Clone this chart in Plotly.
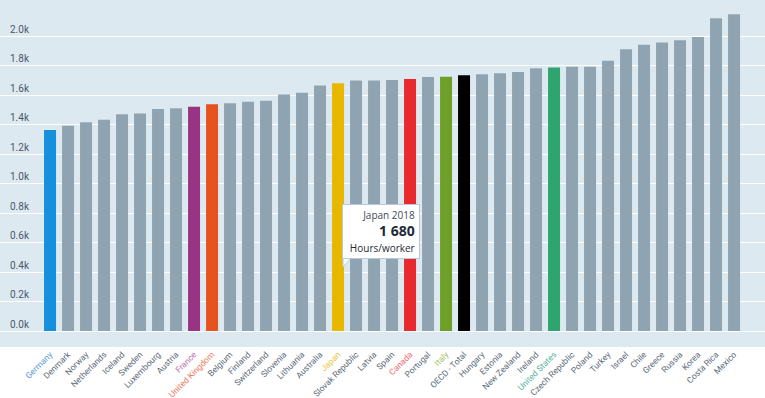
import plotly.graph_objects as go

countries = ["Germany", "Denmark", "Norway", "Netherlands", "Iceland", "Sweden", "Luxembourg",
             "Austria", "France", "United Kingdom", "Belgium", "Finland", "Switzerland", "Slovenia",
             "Lithuania", "Australia", "Japan", "Slovak Republic", "Latvia", "Spain", "Canada",
             "Portugal", "Italy", "OECD - Total", "Hungary", "Estonia", "New Zealand", "Ireland",
             "United States", "Czech Republic", "Poland", "Turkey", "Israel", "Chile", "Greece",
             "Russia", "Korea", "Costa Rica", "Mexico"]
hours = [1363, 1392, 1416, 1433, 1469, 1474, 1506, 1511, 1520, 1538, 1545, 1555, 1561, 1603,
         1616, 1665, 1680, 1698, 1699, 1701, 1708, 1722, 1723, 1734, 1741, 1748, 1756, 1782,
         1786, 1792, 1792, 1832, 1910, 1941, 1956, 1972, 1993, 2121, 2148]

highlight_bar = {"Germany": "#1490dc", "France": "#993484", "United Kingdom": "#e5531f",
                 "Japan": "#e8b800", "Canada": "#e8292e", "Italy": "#6e9f28",
                 "OECD - Total": "#000000", "United States": "#2ea46e"}
highlight_label = {"Germany": "#5a9ad6", "France": "#c072ad", "United Kingdom": "#ee7a5c",
                   "Japan": "#eec243", "Canada": "#ef6a72", "Italy": "#9cc466",
                   "United States": "#58b39a"}
base_bar = "#8fa4b0"
base_label = "#5a6a78"

y_ticks = [0, 200, 400, 600, 800, 1000, 1200, 1400, 1600, 1800, 2000]
y_ticktext = ["0.0k", "0.2k", "0.4k", "0.6k", "0.8k", "1.0k", "1.2k", "1.4k", "1.6k", "1.8k", "2.0k"]

tooltip_country = "Japan"
tooltip_year = "2018"
tooltip_unit = "Hours/worker"

bar_colors = [highlight_bar.get(c, base_bar) for c in countries]
tick_text = ['<span style="color:%s">%s</span>' % (highlight_label.get(c, base_label), c)
             for c in countries]
idx = list(range(len(countries)))

fig = go.Figure(go.Bar(x=idx, y=hours, marker=dict(color=bar_colors, line=dict(width=0)),
                       hoverinfo="skip"))

W, H = 765, 398
plot_h = 347

fig.update_layout(
    width=W, height=H,
    margin=dict(l=0, r=0, t=0, b=H - plot_h, autoexpand=False),
    paper_bgcolor="white", plot_bgcolor="#dde9f1",
    bargap=0.333, showlegend=False,
    font=dict(family="Roboto, sans-serif"),
)
fig.update_xaxes(
    range=[-2.78, 39.72], tickmode="array", tickvals=idx, ticktext=tick_text,
    tickangle=-45, tickfont=dict(size=8.5, color=base_label), showgrid=False,
    zeroline=False, showline=False, ticks="", fixedrange=True, automargin=False,
)
fig.update_yaxes(
    range=[-108, 2244], tickmode="array", tickvals=y_ticks, ticktext=y_ticktext,
    ticklabelposition="inside top", tickfont=dict(size=10, color="#4a5868"),
    gridcolor="white", gridwidth=1, zeroline=False, showline=False, ticks="",
    ticklabelstandoff=7, automargin=False, fixedrange=True,
)

ji = countries.index(tooltip_country)
val = hours[ji]
val_txt = "{:,}".format(val).replace(",", " ")

def px_x(p):
    return p / W

def px_y(p):
    return (plot_h - p) / plot_h

fig.add_annotation(
    xref="paper", yref="paper", x=px_x(342), y=px_y(204), xanchor="left", yanchor="top",
    text='<span style="font-size:10px;color:#3f4a57">%s %s</span><br><span style="font-size:14px;color:#1f2a36"><b>%s</b></span><br><span style="font-size:10px;color:#1f2a36">%s</span>'
         % (tooltip_country, tooltip_year, val_txt, tooltip_unit),
    showarrow=False, align="right", bgcolor="white", bordercolor="#b8cad8", borderwidth=1,
    borderpad=4, font=dict(size=13, family="Open Sans, sans-serif"), width=68, height=45,
)
fig.add_shape(
    type="path", xref="paper", yref="paper",
    path="M %f %f L %f %f L %f %f Z" % (px_x(343), px_y(257), px_x(343), px_y(267), px_x(352), px_y(257)),
    fillcolor="white", line=dict(color="#b8cad8", width=1),
)

fig.write_html("out.html", post_script="document.body.style.margin='0';",
               config={"displayModeBar": False})
